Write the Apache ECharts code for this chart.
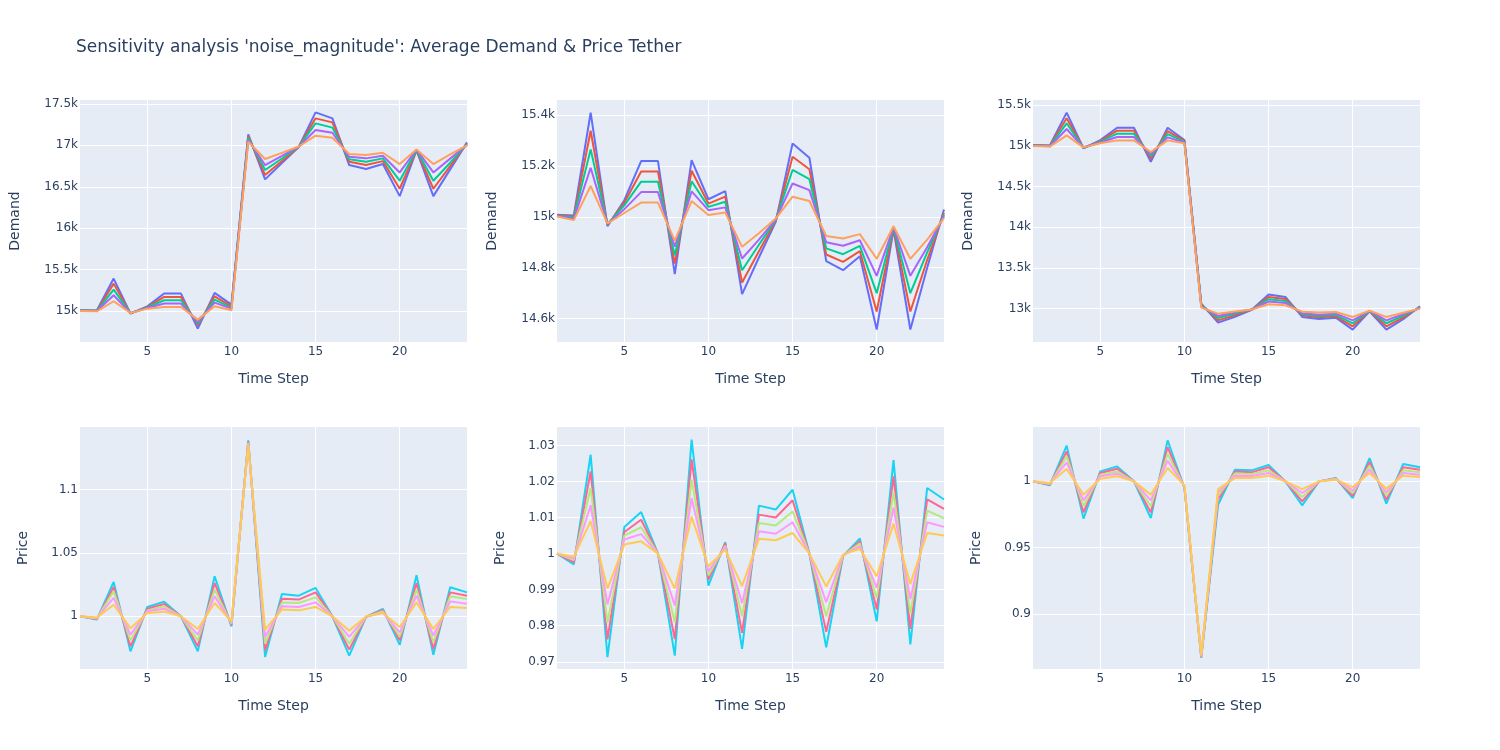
<!DOCTYPE html>
<html>
<head>
<meta charset="utf-8">
<script src="https://cdn.jsdelivr.net/npm/echarts@6/dist/echarts.min.js"></script>
<style>
  html, body { margin: 0; padding: 0; background: #fff; }
  #main { width: 1500px; height: 750px; }
</style>
</head>
<body>
<div id="main"></div>
<script>
var timeSteps = [1,2,3,4,5,6,7,8,9,10,11,12,13,14,15,16,17,18,19,20,21,22,23,24];
var noiseNames = ['noise 0.5', 'noise 0.4', 'noise 0.3', 'noise 0.2', 'noise 0.1'];

// demand, left / middle / right panels (one row per noise level)
var demandLeft = [
  [15008,15005,15391,14968,15055,15210,15210,14786,15218,15077,17133,16589,16787,16980,17399,17326,16762,16714,16774,16387,16940,16387,16710,17036],
  [15006,15003,15330,14970,15048,15170,15170,14827,15177,15056,17113,16641,16812,16982,17326,17278,16802,16762,16810,16476,16943,16476,16750,17025],
  [15004,15001,15258,14972,15042,15129,15129,14847,15137,15040,17093,16702,16842,16983,17266,17214,16831,16802,16843,16573,16945,16573,16790,17015],
  [15002,14999,15190,14974,15035,15089,15089,14867,15100,15028,17068,16762,16872,16984,17185,17153,16863,16843,16875,16673,16948,16673,16840,17008],
  [15000,14995,15117,14976,15028,15048,15048,14895,15056,15008,17044,16835,16910,16986,17117,17093,16895,16883,16911,16774,16951,16774,16890,17000]
];
var demandMid = [
  [15008,15005,15409,14963,15065,15219,15219,14775,15223,15069,15101,14696,14840,14980,15288,15232,14826,14790,14845,14557,14950,14557,14800,15029],
  [15006,15001,15338,14967,15055,15178,15178,14816,15181,15052,15079,14742,14865,14984,15236,15187,14852,14823,14865,14628,14955,14628,14830,15016],
  [15004,14997,15265,14970,15045,15138,15138,14849,15140,15039,15059,14790,14890,14987,15184,15148,14876,14853,14886,14700,14958,14700,14860,15008],
  [15003,14992,15193,14972,15030,15097,15097,14882,15100,15026,15037,14836,14910,14990,15131,15105,14900,14886,14908,14768,14960,14768,14880,15002],
  [15001,14987,15121,14974,15015,15056,15056,14906,15062,15007,15017,14882,14935,14993,15079,15062,14925,14915,14932,14835,14963,14835,14910,14995]
];
var demandRight = [
  [15010,15003,15407,14968,15070,15222,15222,14804,15222,15070,13061,12828,12900,12985,13172,13143,12898,12873,12889,12742,12968,12742,12870,13029],
  [15007,15000,15337,14972,15060,15185,15185,14845,15181,15060,13050,12856,12920,12987,13143,13119,12918,12893,12906,12783,12970,12783,12890,13020],
  [15005,14997,15276,14975,15050,15148,15148,14874,15144,15050,13040,12885,12940,12988,13115,13094,12930,12910,12922,12820,12971,12820,12910,13012],
  [15002,14994,15206,14978,15040,15107,15107,14898,15103,15040,13025,12910,12955,12989,13086,13070,12943,12926,12938,12856,12972,12856,12930,13006],
  [14998,14990,15128,14980,15030,15066,15066,14923,15066,15030,13012,12938,12965,12990,13053,13041,12963,12951,12959,12898,12973,12898,12950,13000]
];

// price tether, left / middle / right panels
var priceLeft = [
  [1.000,0.9974,1.0271,0.9724,1.0074,1.0116,1.000,0.9724,1.0316,0.992,1.139,0.9679,1.0176,1.0163,1.0224,1.000,0.969,0.9995,1.0058,0.9774,1.0324,0.9697,1.0229,1.0189],
  [1.000,0.9978,1.0232,0.9763,1.006,1.0097,1.000,0.9763,1.0263,0.993,1.138,0.9732,1.0139,1.0132,1.0189,1.000,0.9737,0.9995,1.005,0.981,1.0263,0.9742,1.0189,1.0163],
  [1.000,0.9982,1.0197,0.981,1.0047,1.0079,1.000,0.981,1.021,0.994,1.137,0.9784,1.011,1.0105,1.015,1.000,0.9784,0.9996,1.004,0.9842,1.021,0.9795,1.0158,1.0137],
  [1.000,0.9986,1.0145,0.9855,1.004,1.006,1.000,0.9855,1.0158,0.995,1.136,0.9837,1.0079,1.0074,1.011,1.000,0.9837,0.9997,1.003,0.9874,1.0163,0.9847,1.0118,1.01],
  [1.000,0.999,1.0092,0.9905,1.0026,1.0037,1.000,0.99,1.0105,0.996,1.1355,0.9895,1.0053,1.0047,1.0074,1.000,0.9887,0.9998,1.0026,0.9916,1.011,0.99,1.0074,1.0066]
];
var priceMid = [
  [1.000,0.997,1.0274,0.9713,1.0074,1.0115,1.000,0.9717,1.0316,0.9911,1.0032,0.9736,1.0133,1.0122,1.0177,1.000,0.974,0.9993,1.0042,0.9812,1.0259,0.9748,1.0182,1.015],
  [1.000,0.9976,1.0228,0.9762,1.006,1.0094,1.000,0.9763,1.0261,0.9928,1.0028,0.978,1.0108,1.01,1.0148,1.000,0.9783,0.9994,1.0034,0.9845,1.0214,0.9791,1.015,1.0124],
  [1.000,0.9982,1.0182,0.9808,1.005,1.0073,1.000,0.981,1.0205,0.994,1.0022,0.9826,1.0085,1.0078,1.0117,1.000,0.9826,0.9995,1.0028,0.9877,1.017,0.9833,1.0119,1.0098],
  [1.000,0.9986,1.0134,0.9859,1.0039,1.0054,1.000,0.9856,1.0154,0.9951,1.0018,0.9863,1.0062,1.0055,1.0087,1.000,0.9865,0.9996,1.002,0.9905,1.0127,0.9874,1.0087,1.0074],
  [1.000,0.9991,1.009,0.9903,1.0025,1.0034,1.000,0.9903,1.0102,0.9965,1.0011,0.991,1.0041,1.0037,1.0057,1.000,0.9909,0.9997,1.0013,0.9937,1.0083,0.9916,1.0057,1.005]
];
var priceRight = [
  [1.000,0.997,1.0269,0.9719,1.0075,1.0113,1.000,0.9724,1.0309,0.995,0.867,0.9824,1.0088,1.0083,1.0123,1.000,0.9819,1.000,1.0025,0.9874,1.0176,0.9832,1.0131,1.0106],
  [1.000,0.9975,1.0226,0.9766,1.0063,1.0095,1.000,0.9766,1.0259,0.9955,0.8675,0.9862,1.0075,1.0068,1.0106,1.000,0.9849,1.000,1.0022,0.9892,1.0146,0.9862,1.0106,1.0088],
  [1.000,0.998,1.0188,0.9812,1.005,1.0075,1.000,0.9812,1.0206,0.996,0.868,0.9892,1.006,1.0055,1.0083,1.000,0.9882,1.000,1.0019,0.9912,1.0118,0.9892,1.0083,1.0068],
  [1.000,0.9984,1.0143,0.9857,1.0038,1.0058,1.000,0.9857,1.0156,0.9965,0.8685,0.9917,1.0043,1.004,1.0063,1.000,0.9912,1.000,1.0016,0.9932,1.0088,0.9917,1.0063,1.005],
  [1.000,0.9987,1.0093,0.99,1.002,1.0038,1.000,0.99,1.0101,0.997,0.869,0.9942,1.0025,1.0025,1.0043,1.000,0.9942,1.000,1.0013,0.9957,1.0063,0.9945,1.0043,1.0033]
];

// tick values shown on each axis
var xTicks = [5, 10, 15, 20];
var yTicksDemandLeft = [15000, 15500, 16000, 16500, 17000, 17500];
var yTicksDemandMid = [14600, 14800, 15000, 15200, 15400];
var yTicksDemandRight = [13000, 13500, 14000, 14500, 15000, 15500];
var yTicksPriceLeft = [1, 1.05, 1.1];
var yTicksPriceMid = [0.97, 0.98, 0.99, 1, 1.01, 1.02, 1.03];
var yTicksPriceRight = [0.9, 0.95, 1];

var demandColors = ['#636efa', '#EF553B', '#00cc96', '#ab63fa', '#FFA15A'];
var priceColors = ['#19d3f3', '#FF6692', '#B6E880', '#FF97FF', '#FECB52'];

var font = 'Verdana, "DejaVu Sans", sans-serif';
var textColor = '#2a3f5f';

var panels = [
  {data: demandLeft,  ticks: yTicksDemandLeft,  min: 14625, max: 17548, name: 'Demand', colors: demandColors, left: 80,  top: 100, h: 242, gap: 58},
  {data: demandMid,   ticks: yTicksDemandMid,   min: 14508, max: 15459, name: 'Demand', colors: demandColors, left: 557, top: 100, h: 242, gap: 58},
  {data: demandRight, ticks: yTicksDemandRight, min: 12590, max: 15562, name: 'Demand', colors: demandColors, left: 1033, top: 100, h: 242, gap: 58},
  {data: priceLeft,   ticks: yTicksPriceLeft,   min: 0.9584, max: 1.1495, name: 'Price', colors: priceColors, left: 80,  top: 427, h: 242, gap: 50},
  {data: priceMid,    ticks: yTicksPriceMid,    min: 0.968,  max: 1.0351, name: 'Price', colors: priceColors, left: 557, top: 427, h: 242, gap: 50},
  {data: priceRight,  ticks: yTicksPriceRight,  min: 0.8585, max: 1.041,  name: 'Price', colors: priceColors, left: 1033, top: 427, h: 242, gap: 50}
];

function fmtDemand(v) { return (v / 1000) + 'k'; }
function fmtPrice(v) { return String(+v.toFixed(3)); }

var grids = [], xAxes = [], yAxes = [], series = [];
panels.forEach(function (p, i) {
  grids.push({left: p.left, top: p.top, width: 387, height: p.h, backgroundColor: '#E5ECF6', show: true, borderWidth: 0});
  xAxes.push({
    type: 'value', gridIndex: i, min: 1, max: 24,
    name: 'Time Step', nameLocation: 'middle', nameGap: 30,
    nameTextStyle: {fontFamily: font, fontSize: 14, color: textColor},
    axisLine: {show: false}, axisTick: {show: false, customValues: xTicks},
    axisLabel: {customValues: xTicks, fontFamily: font, fontSize: 12, color: textColor, margin: 4},
    splitLine: {show: true, lineStyle: {color: '#fff', width: 1}}
  });
  yAxes.push({
    type: 'value', gridIndex: i, min: p.min, max: p.max,
    name: p.name, nameLocation: 'middle', nameGap: p.gap,
    nameTextStyle: {fontFamily: font, fontSize: 14, color: textColor},
    axisLine: {show: false}, axisTick: {show: false, customValues: p.ticks},
    axisLabel: {customValues: p.ticks, fontFamily: font, fontSize: 12, color: textColor, margin: 2,
      formatter: p.name === 'Demand' ? fmtDemand : fmtPrice},
    splitLine: {show: true, lineStyle: {color: '#fff', width: 1}}
  });
  p.data.forEach(function (vals, k) {
    series.push({
      type: 'line', name: noiseNames[k], xAxisIndex: i, yAxisIndex: i,
      data: timeSteps.map(function (t, j) { return [t, vals[j]]; }),
      showSymbol: false, symbol: 'none', silent: true,
      lineStyle: {color: p.colors[k], width: 2},
      itemStyle: {color: p.colors[k]}
    });
  });
});

var chart = echarts.init(document.getElementById('main'));
chart.setOption({
  animation: false,
  title: {
    text: "Sensitivity analysis 'noise_magnitude': Average Demand & Price Tether",
    left: 71, top: 34,
    textStyle: {fontFamily: font, fontSize: 17, fontWeight: 'normal', color: textColor}
  },
  grid: grids,
  xAxis: xAxes,
  yAxis: yAxes,
  series: series
});
</script>
</body>
</html>
